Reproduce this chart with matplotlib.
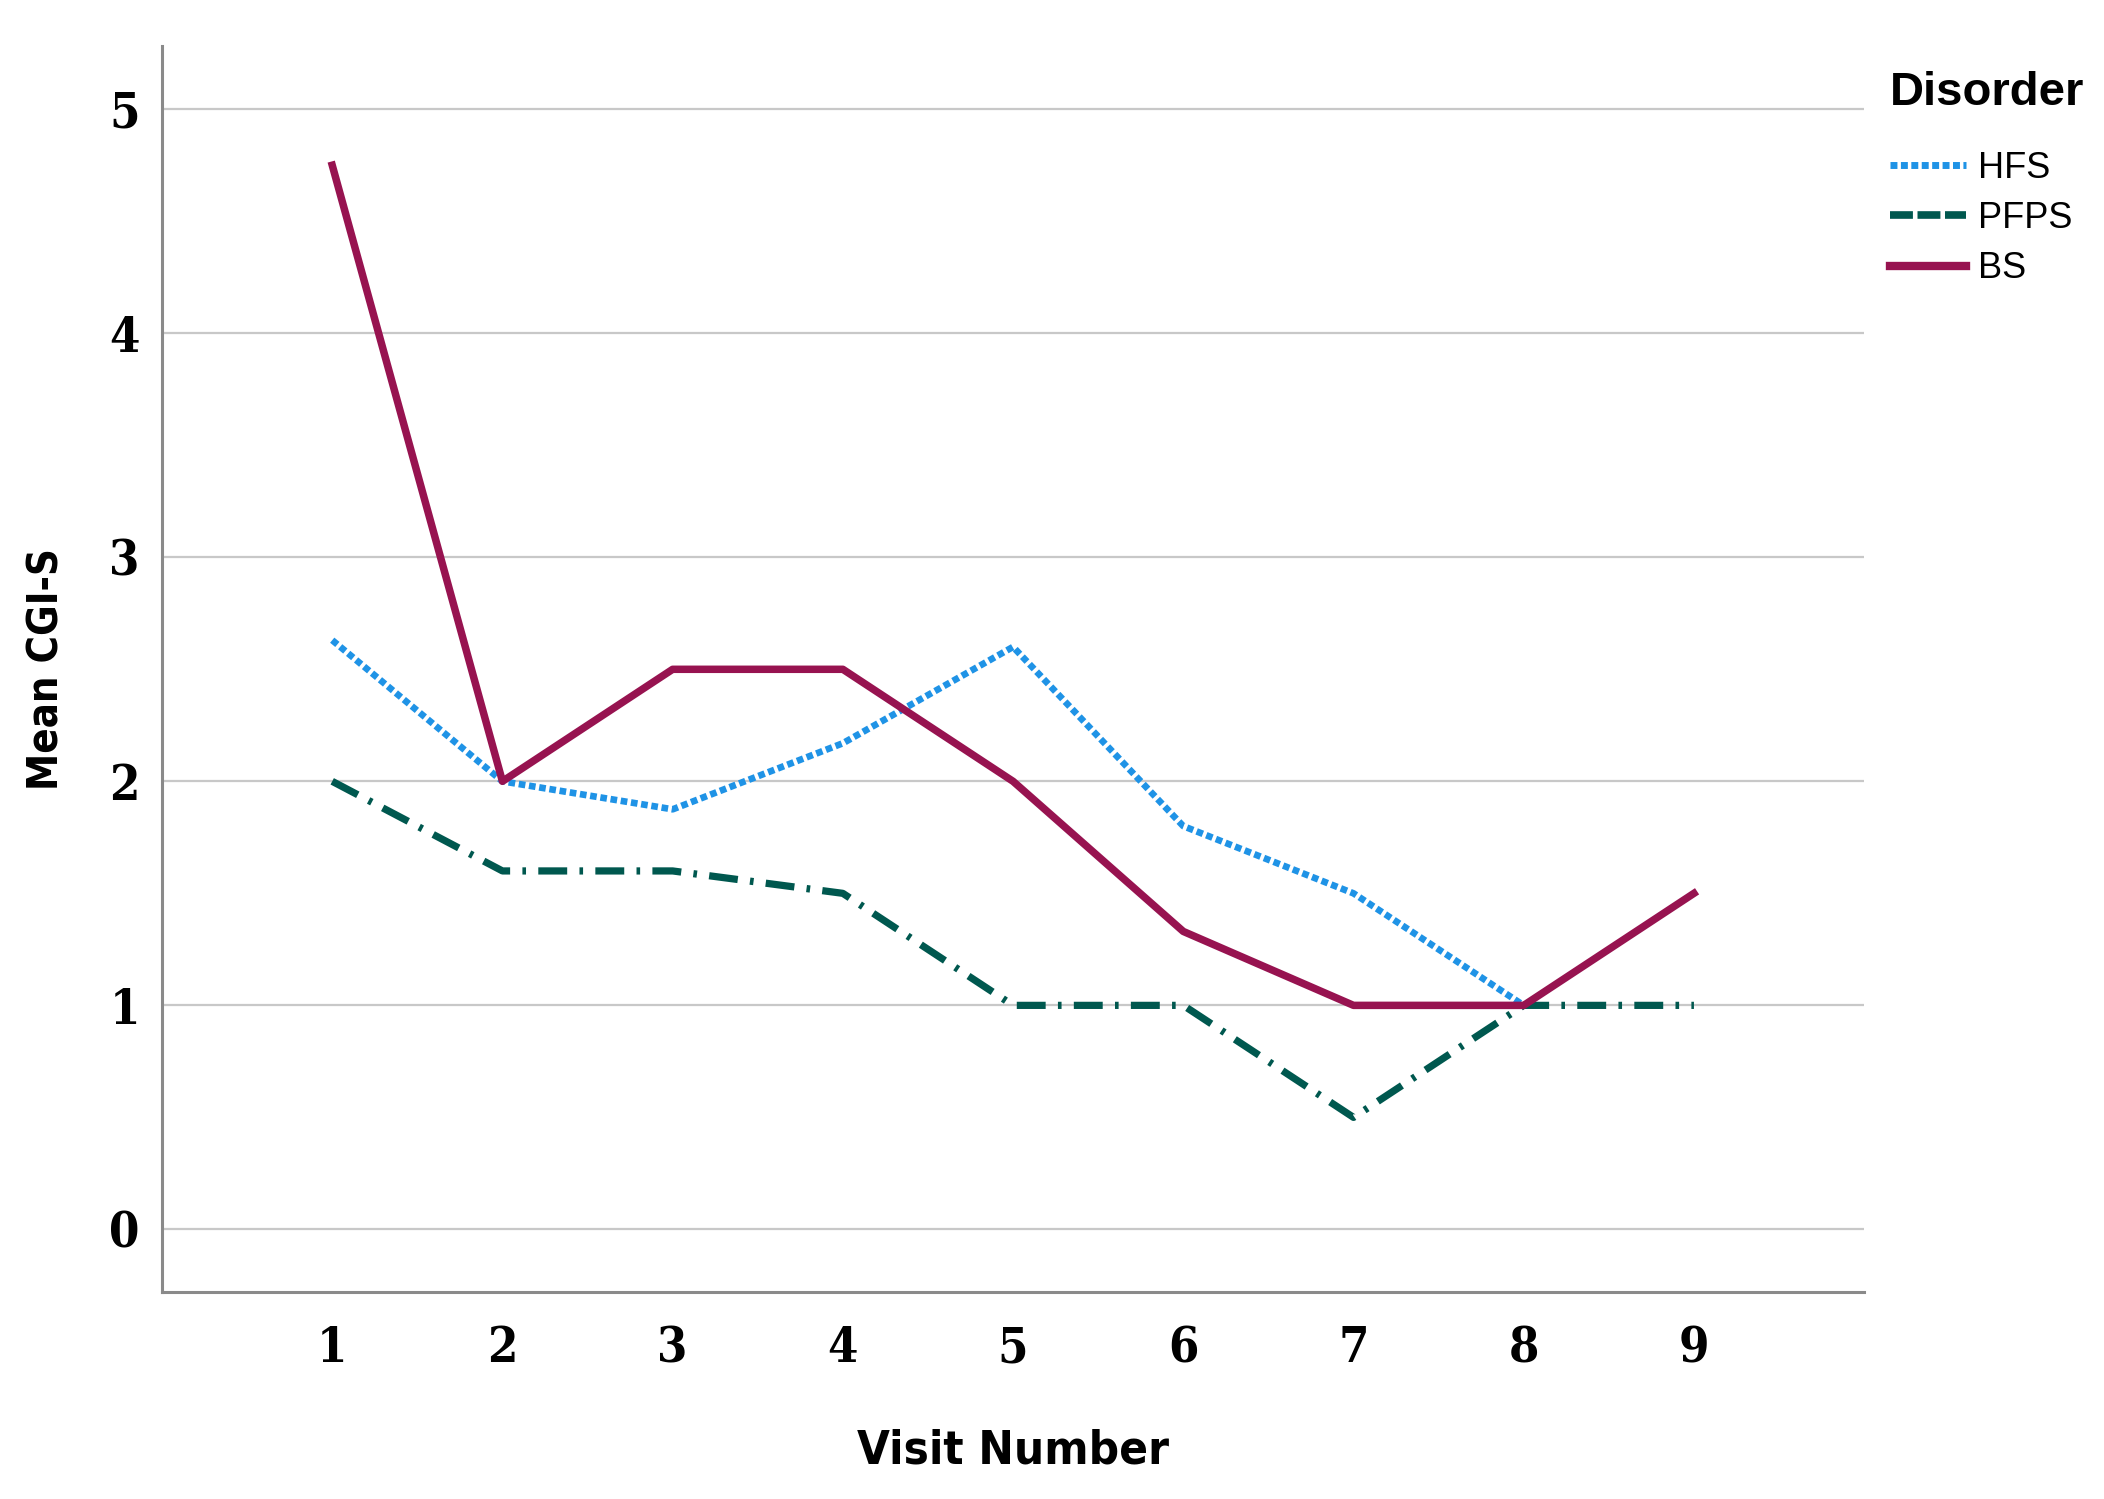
import numpy as np
import matplotlib.pyplot as plt
from matplotlib.lines import Line2D

visits = [1, 2, 3, 4, 5, 6, 7, 8, 9]
hfs = [2.63, 2.0, 1.875, 2.17, 2.6, 1.8, 1.5, 1.0, np.nan]
pfps = [2.0, 1.6, 1.6, 1.5, 1.0, 1.0, 0.5, 1.0, 1.0]
bs = [4.75, 2.0, 2.5, 2.5, 2.0, 1.33, 1.0, 1.0, 1.5]
yticks = [0, 1, 2, 3, 4, 5]

c_hfs = '#1f93e6'
c_pfps = '#00584f'
c_bs = '#971350'

fig = plt.figure(figsize=(21.04, 14.99), dpi=100)
ax = fig.add_axes([0.077, 0.138, 0.809, 0.831])

ax.set_xlim(0, 10)
ax.set_ylim(-0.28, 5.28)
for y in yticks:
    ax.axhline(y, color='#c8c8c8', lw=1.6, zorder=0)

ax.plot(visits, hfs, color=c_hfs, lw=4.8, dashes=(1, 0.55), label='HFS')
ax.plot(visits, pfps, color=c_pfps, lw=5.2, dashes=(4, 1.7, 0.5, 1.7), label='PFPS')
ax.plot(visits, bs, color=c_bs, lw=5.4, label='BS')

ax.set_xticks(visits)
ax.set_yticks(yticks)
ax.tick_params(length=0, pad=24)
for lab in ax.get_xticklabels() + ax.get_yticklabels():
    lab.set_family('DejaVu Serif')
    lab.set_fontstretch('condensed')
    lab.set_fontsize(35)
    lab.set_fontweight('bold')
ax.tick_params(axis='y', pad=16)

ax.set_xlabel('Visit Number', family='DejaVu Sans', stretch='condensed', fontsize=34,
              fontweight='bold', labelpad=40)
ax.set_ylabel('Mean CGI-S', family='DejaVu Sans', stretch='condensed', fontsize=30,
              fontweight='bold', labelpad=30)

for s in ['top', 'right']:
    ax.spines[s].set_visible(False)
for s in ['left', 'bottom']:
    ax.spines[s].set_color('#8a8a8a')
    ax.spines[s].set_linewidth(2.2)

handles = [
    Line2D([], [], color=c_hfs, lw=5, dashes=(1, 0.5)),
    Line2D([], [], color=c_pfps, lw=5.5, dashes=(3, 0.6)),
    Line2D([], [], color=c_bs, lw=6),
]
leg = fig.legend(handles, ['HFS', 'PFPS', 'BS'], title='Disorder',
                 loc='upper left', bbox_to_anchor=(0.893, 0.960), frameon=False,
                 prop={'family': ['Liberation Sans', 'DejaVu Sans'], 'size': 26},
                 handlelength=2.1, handletextpad=0.35, labelspacing=0.42,
                 borderaxespad=0, borderpad=0.3)
leg.get_title().set_fontsize(34)
leg.get_title().set_fontweight('bold')
leg.get_title().set_family(['Liberation Sans', 'DejaVu Sans'])
leg._legend_box.align = 'left'
leg._legend_box.sep = 26

fig.savefig('out.png', dpi=100, facecolor='white')
